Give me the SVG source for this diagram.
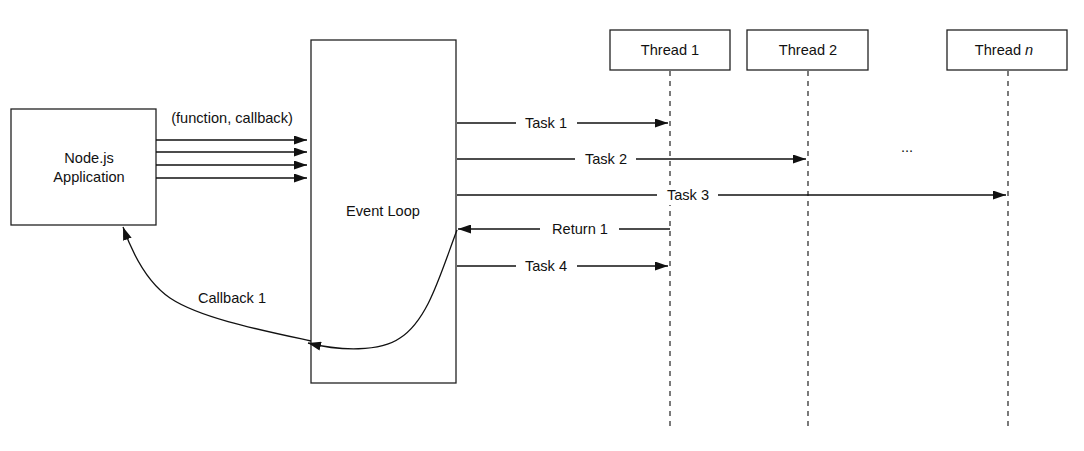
<svg xmlns="http://www.w3.org/2000/svg" width="1084" height="451" viewBox="0 0 1084 451">
<style>
.box{fill:#fff;stroke:#222;stroke-width:1.3}
.t{font-family:"Liberation Sans",Arial,sans-serif;font-size:14.6px;fill:#111;text-anchor:middle}
.ln{fill:none;stroke:#111;stroke-width:1.3}
.life{fill:none;stroke:#333;stroke-width:1.3;stroke-dasharray:5 5}
.bg{fill:#fff}
</style>
<defs>
<marker id="ah" viewBox="0 0 13 9" refX="13" refY="4.5" markerWidth="13" markerHeight="9" markerUnits="userSpaceOnUse" orient="auto">
<path d="M0,0 L13,4.5 L0,9 Z" fill="#111"/>
</marker>
</defs>
<rect width="1084" height="451" fill="#fff"/>
<g id="node-app"><rect class="box" x="11" y="109" width="145" height="116"/><text class="t" x="89" y="163">Node.js</text><text class="t" x="89" y="182">Application</text></g>
<g id="event-loop"><rect class="box" x="311" y="40" width="145" height="343"/><text class="t" x="383" y="216">Event Loop</text></g>
<g id="thread1"><rect class="box" x="610" y="30" width="120" height="40"/><text class="t" x="670" y="55">Thread 1</text></g>
<g id="thread2"><rect class="box" x="747" y="30" width="121" height="40"/><text class="t" x="808" y="55">Thread 2</text></g>
<g id="threadn"><rect class="box" x="947" y="30" width="120" height="40"/><text class="t" x="1004" y="55">Thread <tspan font-style="italic">n</tspan></text></g>
<g id="lifelines">
<line class="life" x1="670" y1="71" x2="670" y2="430"/>
<line class="life" x1="808" y1="71" x2="808" y2="430"/>
<line class="life" x1="1008" y1="71" x2="1008" y2="430"/>
</g>
<g id="connectors">
<line class="ln" x1="156" y1="140" x2="307" y2="140" marker-end="url(#ah)"/>
<line class="ln" x1="156" y1="152" x2="307" y2="152" marker-end="url(#ah)"/>
<line class="ln" x1="156" y1="165" x2="307" y2="165" marker-end="url(#ah)"/>
<line class="ln" x1="156" y1="178" x2="307" y2="178" marker-end="url(#ah)"/>
<text class="t" x="232" y="123">(function, callback)</text>

<line class="ln" x1="457" y1="123" x2="668" y2="123" marker-end="url(#ah)"/>
<rect class="bg" x="516" y="113" width="61" height="20"/>
<text class="t" x="546" y="128">Task 1</text>

<line class="ln" x1="457" y1="159" x2="806" y2="159" marker-end="url(#ah)"/>
<rect class="bg" x="575" y="149" width="61" height="20"/>
<text class="t" x="606" y="164">Task 2</text>

<line class="ln" x1="457" y1="195" x2="1006" y2="195" marker-end="url(#ah)"/>
<rect class="bg" x="657" y="185" width="61" height="20"/>
<text class="t" x="688" y="200">Task 3</text>

<line class="ln" x1="670" y1="229" x2="458" y2="229" marker-end="url(#ah)"/>
<rect class="bg" x="540" y="219" width="79" height="20"/>
<text class="t" x="580" y="234">Return 1</text>

<line class="ln" x1="457" y1="266" x2="668" y2="266" marker-end="url(#ah)"/>
<rect class="bg" x="516" y="256" width="61" height="20"/>
<text class="t" x="546" y="271">Task 4</text>

<path class="ln" d="M457,230 C440,275 428,320 400,338 C380,352 340,351 308,343" marker-end="url(#ah)"/>
<path class="ln" d="M311,341 C260,330 200,318 170,298 C148,283 133,255 123,227" marker-end="url(#ah)"/>
<text class="t" x="232" y="303">Callback 1</text>
<text class="t" x="907" y="152">...</text>
</g>
</svg>
